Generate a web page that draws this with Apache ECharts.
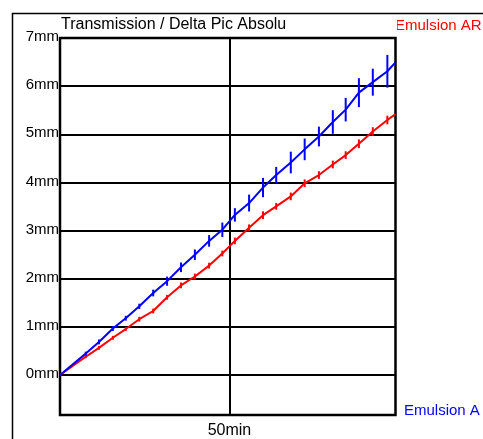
<!DOCTYPE html>
<html>
<head>
<meta charset="utf-8">
<script src="https://cdn.jsdelivr.net/npm/echarts@6/dist/echarts.min.js"></script>
<style>
html, body { margin: 0; padding: 0; background: #fff; }
#main { width: 483px; height: 439px; }
</style>
</head>
<body>
<div id="main"></div>
<script>
// minutes
var times = [0, 7.6, 11.5, 15.6, 19.4, 23.4, 27.5, 31.6, 35.7, 39.8, 44.0, 47.9, 51.6,
	55.8, 59.9, 63.8, 68.1, 72.2, 76.4, 80.5, 84.3, 88.2, 92.3, 96.6, 99];
// Emulsion A (blue), mm
var blueVals = [0, 0.445, 0.688, 0.965, 1.18, 1.427, 1.704, 1.95, 2.238, 2.498, 2.786, 3.018, 3.326,
	3.572, 3.894, 4.153, 4.414, 4.687, 4.954, 5.256, 5.512, 5.865, 6.083, 6.309, 6.494];
var blueErr = [null, 0.04, 0.05, 0.05, 0.05, 0.055, 0.07, 0.095, 0.1, 0.11, 0.12, 0.15, 0.14,
	0.175, 0.2, 0.17, 0.225, 0.225, 0.205, 0.245, 0.245, 0.3, 0.28, 0.34, null];
// Emulsion AR (red), mm
var redVals = [0, 0.38, 0.565, 0.774, 0.955, 1.16, 1.33, 1.614, 1.862, 2.047, 2.273, 2.525, 2.786,
	3.059, 3.32, 3.504, 3.71, 3.983, 4.153, 4.373, 4.568, 4.804, 5.057, 5.297, 5.42];
var redErr = [null, 0.03, 0.04, 0.04, 0.04, 0.05, 0.05, 0.05, 0.06, 0.06, 0.06, 0.06, 0.07,
	0.07, 0.08, 0.07, 0.08, 0.08, 0.08, 0.08, 0.08, 0.09, 0.09, 0.09, null];
var yTicks = [0, 1, 2, 3, 4, 5, 6, 7];
var xTicks = [50];

var FONT = "'Liberation Sans', Arial, sans-serif";

function pairs(vals) {
	var res = [];
	for (var i = 0; i < times.length; i++) res.push([times[i], vals[i]]);
	return res;
}
function bars(vals, errs) {
	var res = [];
	for (var i = 0; i < times.length; i++) {
		if (errs[i] != null) res.push([times[i], vals[i], errs[i]]);
	}
	return res;
}
function errRender(color) {
	return function(params, api) {
		var x = api.value(0), y = api.value(1), e = api.value(2);
		var p1 = api.coord([x, y - e]);
		var p2 = api.coord([x, y + e]);
		return {
			type: 'line',
			shape: { x1: p1[0], y1: p1[1], x2: p2[0], y2: p2[1] },
			style: { stroke: color, lineWidth: 2 }
		};
	};
}

var myChart = echarts.init(document.getElementById('main'));
var option = {
	animation: false,
	grid: {
		left: 60, right: 87.5, top: 38, bottom: 19.5,
		show: true, borderColor: '#000', borderWidth: 2.5, backgroundColor: 'transparent'
	},
	xAxis: {
		type: 'value', min: 0, max: 99,
		axisLine: { show: false },
		axisTick: { show: false, customValues: xTicks },
		splitLine: { show: true, lineStyle: { color: '#000', width: 2 } },
		axisLabel: {
			customValues: xTicks,
			formatter: function(v) { return v + 'min'; },
			color: '#000', fontSize: 16, fontFamily: FONT, margin: 8
		}
	},
	yAxis: {
		type: 'value', min: -0.83, max: 7,
		axisLine: { show: false },
		axisTick: { show: false, customValues: yTicks },
		splitLine: { show: true, lineStyle: { color: '#000', width: 2 } },
		axisLabel: {
			customValues: yTicks,
			formatter: function(v) { return v + 'mm'; },
			color: '#000', fontSize: 15, fontFamily: FONT, margin: 1,
			verticalAlign: 'bottom', lineHeight: 2
		}
	},
	graphic: [
		{ type: 'rect', silent: true,
			shape: { x: 12.5, y: 13.5, width: 520, height: 480 },
			style: { fill: 'none', stroke: '#000', lineWidth: 1.5 } },
		{ type: 'text', x: 61, y: 25, silent: true,
			style: { text: 'Transmission / Delta Pic Absolu', fill: '#000', font: '16px ' + FONT, verticalAlign: 'middle' } },
		{ type: 'text', x: 395, y: 26, silent: true,
			style: { text: 'Emulsion AR', fill: '#ff0000', font: '15px ' + FONT, verticalAlign: 'middle' } },
		{ type: 'rect', x: 385, y: 16, silent: true, z: 200,
			shape: { width: 12, height: 19 }, style: { fill: '#fff' } },
		{ type: 'text', x: 404, y: 411, silent: true,
			style: { text: 'Emulsion A', fill: '#0000ff', font: '15px ' + FONT, verticalAlign: 'middle' } }
	],
	series: [
		{
			name: 'Emulsion AR', type: 'line', data: pairs(redVals),
			showSymbol: false, symbol: 'none',
			lineStyle: { color: '#ff0000', width: 2 }, z: 3
		},
		{
			name: 'Emulsion AR err', type: 'custom', data: bars(redVals, redErr),
			renderItem: errRender('#ff0000'), z: 3
		},
		{
			name: 'Emulsion A', type: 'line', data: pairs(blueVals),
			showSymbol: false, symbol: 'none',
			lineStyle: { color: '#0000ff', width: 2 }, z: 4
		},
		{
			name: 'Emulsion A err', type: 'custom', data: bars(blueVals, blueErr),
			renderItem: errRender('#0000ff'), z: 4
		}
	]
};
myChart.setOption(option);
</script>
</body>
</html>
